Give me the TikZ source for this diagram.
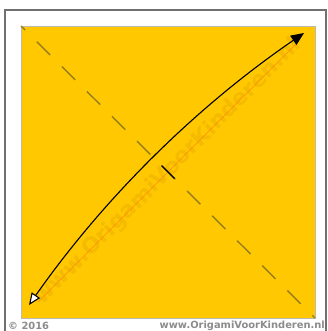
\documentclass[tikz,border=0pt]{standalone}
\usepackage{fontspec}
\newfontfamily\markfont{DejaVu Sans}
\usetikzlibrary{calc}
\usetikzlibrary{arrows.meta}
\definecolor{paperYellow}{RGB}{255,200,0}
\definecolor{foldColor}{RGB}{150,125,30}
\definecolor{frameGray}{RGB}{112,112,112}
\definecolor{edgeGray}{RGB}{190,185,170}
\definecolor{markYellow}{RGB}{244,187,0}
\definecolor{markLine}{RGB}{255,140,20}
\definecolor{creditGray}{RGB}{140,140,140}
\tikzset{
  paperSheet/.style={
    fill=paperYellow,
    draw=edgeGray,
    line width=0.8pt
  },
  valleyFold/.style={
    draw=foldColor,
    line width=1.4pt,
    dash pattern=on 18.8pt off 16.5pt,
    dash phase=13pt
  },
  foldMark/.style={
    black,
    line width=1.4pt
  },
  moveArrow/.style={
    {Triangle[fill=white,length=12pt,width=10pt]}-{Triangle[length=13pt,width=11pt]},
    black,
    line width=1.1pt
  },
  watermark text/.style={
    markYellow,
    font=\markfont\bfseries\fontsize{22}{22}\selectfont,
    inner sep=0pt
  },
  credit text/.style={
    creditGray,
    font=\markfont\bfseries\fontsize{9.9}{10}\selectfont,
    inner sep=0pt
  }
}

\begin{document}
\begin{tikzpicture}[x=1pt, y=-1pt]
\def\Wd{327}   % picture width
\def\Ht{331}   % picture height
\def\xl{21}    % paper left
\def\xr{315}   % paper right
\def\yt{26}    % paper top
\def\yb{318}   % paper bottom

\useasboundingbox (0,0) rectangle (\Wd,\Ht);
\fill[white] (0,0) rectangle (\Wd,\Ht);

% Frame (open at the bottom)
\draw[frameGray, line width=2pt] (5,\Ht+2) -- (5,10) -- (326,10) -- (326,\Ht+2);

% Paper square
\coordinate (TL) at (\xl,\yt);
\coordinate (TR) at (\xr,\yt);
\coordinate (BL) at (\xl,\yb);
\coordinate (BR) at (\xr,\yb);
\coordinate (C) at ($(TL)!0.5!(BR)$);
\draw[paperSheet] (TL) rectangle (BR);

% Watermark along the other diagonal
\node[watermark text, rotate=45] (mark) at (C) {www.OrigamiVoorKinderen.nl};
\draw[markLine, line width=0.6pt] (mark.west) -- (mark.east);

% Valley fold line
\draw[valleyFold] (TL) -- (BR);

% Crease mark at the centre
\draw[foldMark] ($(C)+(-6.5,-6.5)$) -- ($(C)+(6.5,6.5)$);

% Folding arrow
\coordinate (start) at (29,305);
\coordinate (end)   at (304,33);
\draw[moveArrow] (start) .. controls (104,198) and (196,107) .. (end);

% Credits
\node[credit text, anchor=west] (year) at (8,325.5) {© 2016};
\node[credit text, anchor=east] (site) at (325,325.5) {www.OrigamiVoorKinderen.nl};
\end{tikzpicture}
\end{document}
